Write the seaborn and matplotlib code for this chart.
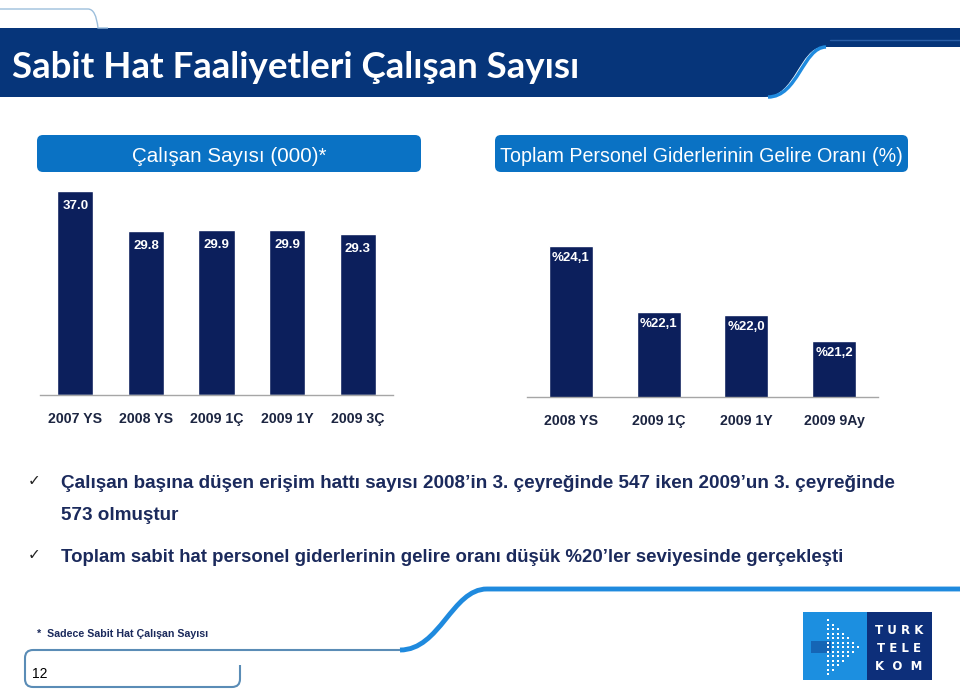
import matplotlib
matplotlib.use("Agg")
import matplotlib.pyplot as plt
import seaborn as sns
import numpy as np
from matplotlib.patches import FancyBboxPatch, PathPatch, Rectangle
from matplotlib.path import Path

# --- data -------------------------------------------------------------
headcount_periods = ["2007 YS", "2008 YS", "2009 1Ç", "2009 1Y", "2009 3Ç"]
headcount_values = [37.0, 29.8, 29.9, 29.9, 29.3]

ratio_periods = ["2008 YS", "2009 1Ç", "2009 1Y", "2009 9Ay"]
ratio_values = [24.1, 22.1, 22.0, 21.2]

left_header = "Çalışan Sayısı (000)*"
right_header = "Toplam Personel Giderlerinin Gelire Oranı (%)"
title = "Sabit Hat Faaliyetleri Çalışan Sayısı"
bullet_1a = "Çalışan başına düşen erişim hattı sayısı 2008’in 3. çeyreğinde 547 iken 2009’un 3. çeyreğinde"
bullet_1b = "573 olmuştur"
bullet_2 = "Toplam sabit hat personel giderlerinin gelire oranı düşük %20’ler seviyesinde gerçekleşti"
footnote = "*  Sadece Sabit Hat Çalışan Sayısı"
page_no = "12"

# --- style -------------------------------------------------------------
sns.set_style("white")
plt.rcParams["font.family"] = ["Liberation Sans", "DejaVu Sans"]

NAVY_BAR = "#0c1f5c"
BAND = "#06357a"
HEADER = "#0a72c4"
LIGHT = "#1f8ade"
TEXT_NAVY = "#1b2a5c"
AXIS_GREY = "#a6a6a6"

W, H = 960, 692
fig = plt.figure(figsize=(W / 100, H / 100), dpi=100)


def px_axes(x0, y0, x1, y1, **kw):
    return fig.add_axes([x0 / W, 1 - y1 / H, (x1 - x0) / W, (y1 - y0) / H], **kw)


# background canvas in pixel coordinates
bg = px_axes(0, 0, W, H, zorder=-5)
bg.set_xlim(0, W)
bg.set_ylim(H, 0)
bg.axis("off")

# title band with curved right end
band = Path(
    [(0, 28), (960, 28), (960, 47), (823, 47), (800, 47), (795, 97), (765, 97), (0, 97), (0, 28)],
    [Path.MOVETO, Path.LINETO, Path.LINETO, Path.LINETO, Path.CURVE4, Path.CURVE4, Path.CURVE4,
     Path.LINETO, Path.CLOSEPOLY],
)
bg.add_patch(PathPatch(band, facecolor=BAND, edgecolor="none"))
edge = Path([(826, 47), (803, 47), (798, 97), (768, 97)],
            [Path.MOVETO, Path.CURVE4, Path.CURVE4, Path.CURVE4])
bg.add_patch(PathPatch(edge, facecolor="none", edgecolor=LIGHT, lw=2.5))
bg.plot([830, 960], [40, 40], color="#2a5ea6", lw=1)
top_line = Path([(0, 9), (88, 9), (96, 9), (98, 28), (108, 28)],
                [Path.MOVETO, Path.LINETO, Path.CURVE3, Path.CURVE3, Path.LINETO])
bg.add_patch(PathPatch(top_line, facecolor="none", edgecolor="#9dbfdc", lw=1))
bg.text(12, 67, title, color="white", fontsize=26.4, fontweight="bold",
        family=["Lato", "DejaVu Sans"], va="center", ha="left")

# chart header boxes
for (x0, x1), txt, fs in [((37, 421), left_header, 14.8), ((495, 908), right_header, 14.1)]:
    bg.add_patch(FancyBboxPatch((x0, 135), x1 - x0, 37,
                                boxstyle="round,pad=0,rounding_size=6",
                                facecolor=HEADER, edgecolor="none"))
    bg.text((x0 + x1) / 2, 156, txt, color="white", fontsize=fs, ha="center", va="center")

# bullets
for y, txt, check, fs in [(483, bullet_1a, True, 13.6), (516, bullet_1b, False, 13.6),
                          (557, bullet_2, True, 13.4)]:
    if check:
        bg.text(28, y - 2, "✓", color="#222222", fontsize=11, family="DejaVu Sans", va="center")
    bg.text(61, y, txt, color=TEXT_NAVY, fontsize=fs, fontweight="bold",
            va="center", ha="left")

# bottom decoration
swoosh = Path([(960, 589), (487, 589), (452, 589), (440, 650), (400, 650)],
              [Path.MOVETO, Path.LINETO, Path.CURVE4, Path.CURVE4, Path.CURVE4])
bg.add_patch(PathPatch(swoosh, facecolor="none", edgecolor=LIGHT, lw=3.5))
box = Path([(400, 650), (33, 650), (25, 650), (25, 658), (25, 679), (25, 687), (33, 687),
            (232, 687), (240, 687), (240, 679), (240, 665)],
           [Path.MOVETO, Path.LINETO, Path.CURVE3, Path.CURVE3, Path.LINETO, Path.CURVE3,
            Path.CURVE3, Path.LINETO, Path.CURVE3, Path.CURVE3, Path.LINETO])
bg.add_patch(PathPatch(box, facecolor="none", edgecolor="#5a8cb6", lw=1.5))
bg.text(37, 634, footnote, color=TEXT_NAVY, fontsize=7.7, fontweight="bold", va="center")
bg.text(32, 674, page_no, color="black", fontsize=10, va="center")

# logo
bg.add_patch(Rectangle((803, 612), 64, 68, facecolor="#1c8fe0", edgecolor="none"))
bg.add_patch(Rectangle((867, 612), 65, 68, facecolor="#0d2f7a", edgecolor="none"))
bg.add_patch(Rectangle((811, 641), 20, 12, facecolor="#1565b5", edgecolor="none"))
for c in range(7):
    half = 6 - c
    ys = 647 + np.arange(-half, half + 1) * 4.5
    bg.scatter(np.full(len(ys), 828 + c * 5), ys, s=3.5, marker="s", color="white", lw=0)
for i, word in enumerate(["T U R K", "T E L E", "K  O  M"]):
    bg.text(899, 630 + i * 18.5, word, color="white", fontsize=8.5, fontweight="bold",
            family="DejaVu Sans", ha="center", va="center")


def style_axis(ax, n):
    ax.set_xlim(-0.5, n - 0.5)
    for side in ("left", "top", "right"):
        ax.spines[side].set_visible(False)
    ax.spines["bottom"].set_color(AXIS_GREY)
    ax.spines["bottom"].set_linewidth(1)
    ax.set_yticks([])
    ax.set_xticks(np.arange(-0.5, n), minor=True)
    ax.tick_params(axis="x", which="minor", length=4, color=AXIS_GREY, width=1)
    ax.tick_params(axis="x", which="major", length=0, pad=12, labelsize=10.2,
                   labelcolor="#1c2541")
    for lab in ax.get_xticklabels():
        lab.set_fontweight("bold")
    ax.set_xlabel("")
    ax.set_ylabel("")
    ax.set_facecolor("none")


# left chart: headcount
ax1 = px_axes(40, 395 - 40 * 5.51, 393, 395)
sns.barplot(x=headcount_periods, y=headcount_values, color=NAVY_BAR, saturation=1,
            width=0.51, ax=ax1)
ax1.set_ylim(0, 40)
style_axis(ax1, len(headcount_periods))
for i, v in enumerate(headcount_values):
    ax1.annotate(f"{v:.1f}", (i, v), xytext=(0, -10.8), textcoords="offset points",
                 ha="center", va="center", color="white", fontweight="bold", fontsize=9.5)

# right chart: personnel cost / revenue
ax2 = px_axes(527, 397 - 5.2 * 32.76, 878, 397)
sns.barplot(x=ratio_periods, y=ratio_values, color=NAVY_BAR, saturation=1,
            width=0.5, ax=ax2)
ax2.set_ylim(19.5, 24.7)
style_axis(ax2, len(ratio_periods))
for i, v in enumerate(ratio_values):
    ax2.annotate("%" + f"{v:.1f}".replace(".", ","), (i, v), xytext=(0, -8.6),
                 textcoords="offset points", ha="center", va="center",
                 color="white", fontweight="bold", fontsize=9.5)

fig.savefig("out.png", dpi=100)
